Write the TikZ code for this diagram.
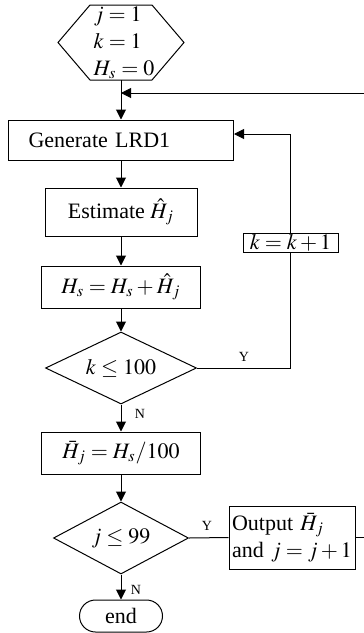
\documentclass[tikz,border=0pt]{standalone}
\usepackage{mathptmx}
\usepackage{fontspec}
\setmainfont{Liberation Serif}
\usetikzlibrary{arrows.meta,shapes.geometric}
\tikzset{
  box/.style={draw, line width=0.5pt, inner sep=0pt, font=\fontsize{11}{13.5}\selectfont},
  test/.style={draw, diamond, aspect=2, inner sep=0pt, line width=0.5pt, font=\fontsize{11}{13.5}\selectfont},
  flow/.style={line width=0.5pt, -{Triangle[length=5pt,width=5pt]}},
  link/.style={line width=0.5pt},
  tag/.style={font=\fontsize{7}{8}\selectfont, inner sep=0pt},
}
\begin{document}
\begin{tikzpicture}[x=0.5pt,y=-0.5pt]
\useasboundingbox (0,0) rectangle (364,633);
% start
\draw[link] (90,5) -- (152,5) -- (184,42.5) -- (152,80) -- (90,80) -- (58,42.5) -- cycle;
\node[align=left, inner sep=0pt, font=\fontsize{11}{13.5}\selectfont] (init) at (124,42.5)
  {$j=1$\\$k=1$\\$H_s=0$};
\coordinate (hexb) at (121,80);
\coordinate (merge) at (121,93);
\coordinate (rtop) at (364,93);
% inner loop
\node[box, text width=92.5pt, inner xsep=10pt, minimum height=20pt, align=left] (gen) at (121,140) {Generate LRD1};
\node[box, minimum width=76pt, minimum height=24pt] (est) at (121,212) {Estimate $\hat{H}_j$};
\node[box, minimum width=79.5pt, minimum height=21pt] (hs) at (121,287) {$H_s=H_s+\hat{H}_j$};
\node[test, minimum width=75.5pt, minimum height=36pt] (dk) at (121,368) {$k\leq 100$};
\node[box, minimum width=47.5pt, minimum height=9.5pt] (kinc) at (290.5,242.5) {$k=k+1$};
% outer loop
\node[box, minimum width=79.5pt, minimum height=21pt] (hbar) at (121,453) {$\bar{H}_j=H_s/100$};
\node[test, minimum width=67.5pt, minimum height=36pt] (dj) at (121,538) {$j\leq 99$};
\node[box, text width=60pt, inner xsep=1.5pt, minimum height=31.5pt, align=left] (out) at (292,537.5)
  {Output $\bar{H}_j$\\and $j=j+1$};
\coordinate (rbot) at (364,537.5);
\node[box, rounded corners=8pt, minimum width=41.5pt, minimum height=16pt] (stop) at (121,616) {end};
% labels
\node[tag] (yk) at (244,357) {Y};
\node[tag] (nk) at (140,414) {N};
\node[tag] (yj) at (207,526) {Y};
\node[tag] (nj) at (136,590) {N};
% connectors
\draw[flow] (hexb) -- (gen.north);
\draw[flow] (rtop) -- (merge);
\draw[flow] (gen) -- (est);
\draw[flow] (est) -- (hs);
\draw[flow] (hs) -- (dk);
\draw[link] (dk.east) -| (kinc.south);
\draw[flow] (kinc.north) |- ([yshift=3pt]gen.east);
\draw[flow] (dk) -- (hbar);
\draw[flow] (hbar) -- (dj);
\draw[link] (dj.east) -- (out.west);
\draw[link] (out.east) -- (rbot);
\draw[flow] (dj) -- (stop);
\end{tikzpicture}
\end{document}
